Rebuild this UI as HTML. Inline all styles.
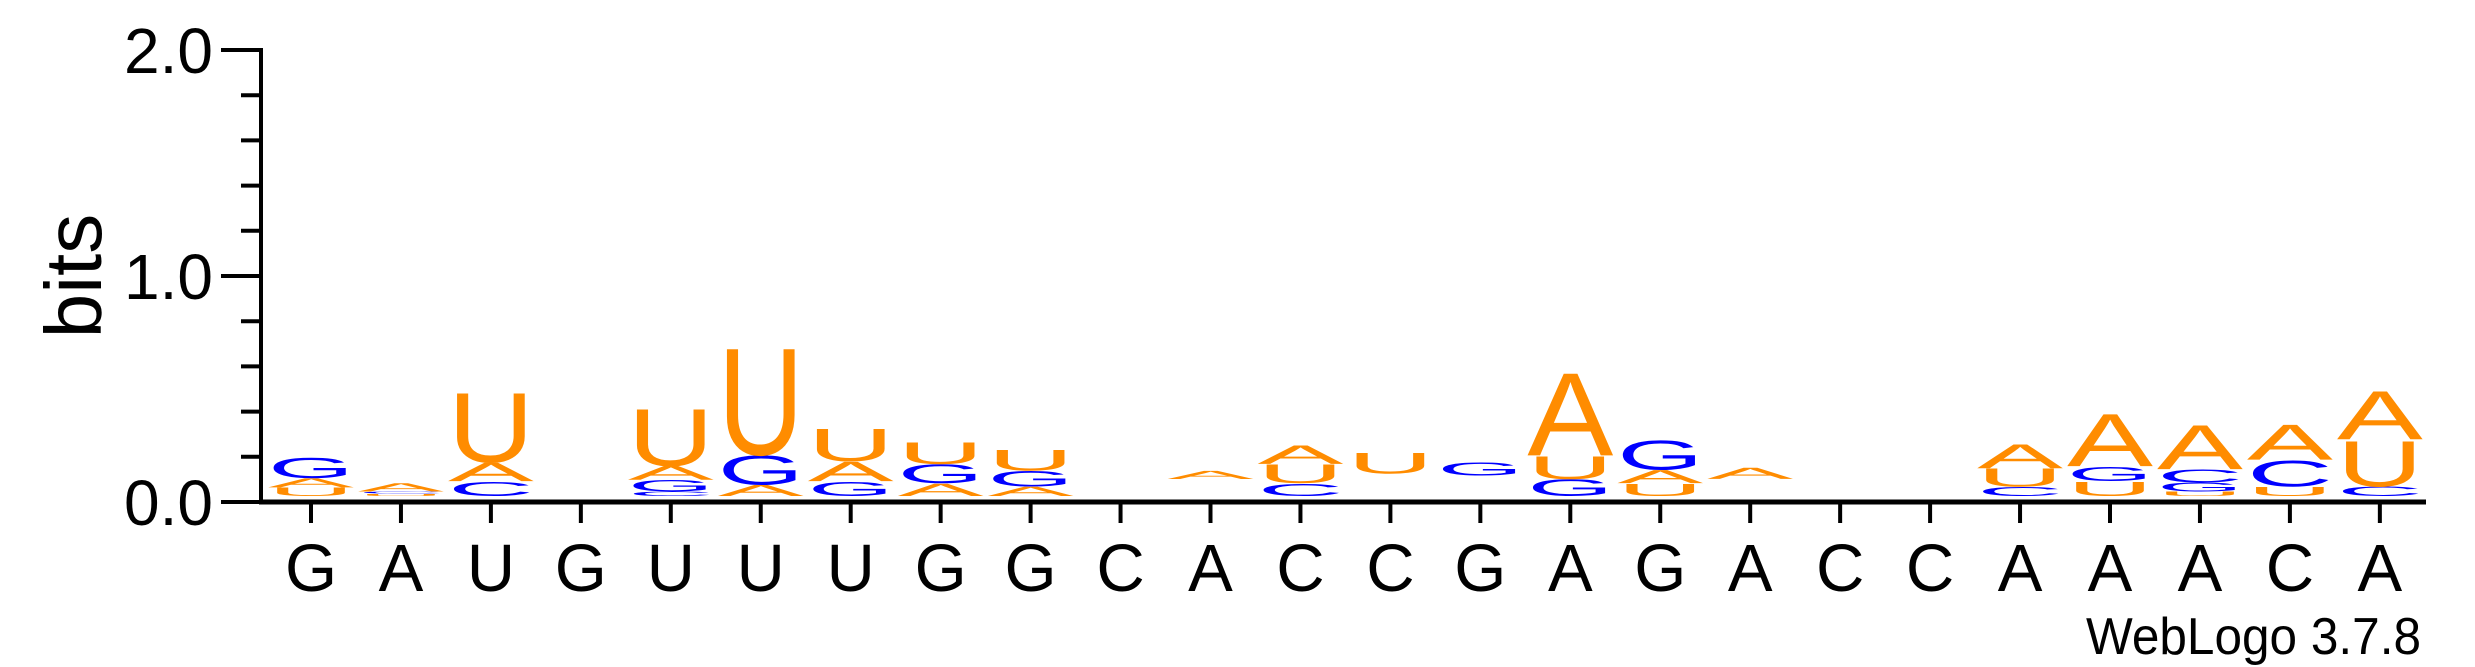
<!DOCTYPE html>
<html><head><meta charset="utf-8"><style>
html,body{margin:0;padding:0;background:#fff;}
svg{display:block;font-family:"Liberation Sans",Arial,sans-serif;}
</style></head><body>
<svg id="logo" width="2475" height="667" viewBox="0 0 2475 667" xmlns="http://www.w3.org/2000/svg">
<g id="axes"></g>
<g id="stacks"></g>
<text x="0" y="0" font-size="80" text-anchor="middle" transform="translate(101,276) rotate(-90)">bits</text>
<text x="2421" y="654" font-size="52" text-anchor="end" textLength="335" lengthAdjust="spacingAndGlyphs">WebLogo 3.7.8</text>
</svg>
<script>
const positions = ["G","A","U","G","U","U","U","G","G","C","A","C","C","G","A","G","A","C","C","A","A","A","C","A"];
const yTickValues = [0,0.2,0.4,0.6,0.8,1.0,1.2,1.4,1.6,1.8,2.0];
const yTickLabels = {"0":"0.0","1":"1.0","2":"2.0"};
// stacks bottom -> top : [letter, bits]; " " is an empty gap of small residual letters
const stackLetters = [
 ["U","A","G"],["U","C","A"],["C","A","U"],[],["C","G","A","U"],["A","G","U"],
 ["G","A","U"],["A","G","U"],["A","G","U"],[],[" ","A"],["C","U","A"],
 [" ","U"],[" ","G"],["G","U","A"],["U","A","G"],[" ","A"],[],[],
 ["C","U","A"],["U","G","A"],["U","G","C","A"],["U","C","A"],["C","U","A"]
];
const stackBits = [
 [0.038,0.042,0.091],[0.01,0.01,0.038],[0.066,0.085,0.316],[],[0.019,0.053,0.064,0.261],[0.051,0.132,0.488],
 [0.066,0.089,0.147],[0.057,0.085,0.1],[0.043,0.07,0.095],[],[0.075,0.038],[0.057,0.085,0.085],
 [0.1,0.095],[0.09,0.06],[0.076,0.104,0.378],[0.057,0.06,0.134],[0.076,0.051],[],[],
 [0.042,0.081,0.11],[0.066,0.066,0.24],[0.02,0.04,0.059,0.202],[0.042,0.119,0.161],[0.043,0.208,0.221]
];
const NS="http://www.w3.org/2000/svg";
const X0=311, DX=89.95, Y0=502, PPB=226, BASE=496;
const xScale=i=>X0+i*DX;
const yScale=b=>Y0-b*PPB;
const colors={A:"#ff8c00",U:"#ff8c00",G:"#0000ff",C:"#0000ff"};
const adv={A:0.667,C:0.722,G:0.778,U:0.722};
function mk(tag,attrs,parent){const e=document.createElementNS(NS,tag);for(const k in attrs)e.setAttribute(k,attrs[k]);parent.appendChild(e);return e;}
const axes=document.getElementById('axes');
let l=mk('line',{x1:261,y1:48,x2:261,y2:504,stroke:'#000','stroke-width':4},axes);


l=mk('line',{x1:259,y1:502,x2:2426,y2:502,stroke:'#000','stroke-width':5},axes);


yTickValues.forEach(v=>{
  const y=yScale(v);
  const major=(yTickLabels[String(v)]!==undefined);
  const t=mk('line',{x1:major?221:241,y1:y,x2:261,y2:y,stroke:'#000','stroke-width':4},axes);
  
  
  if(major){
    const tx=mk('text',{x:213,y:y+23,'font-size':64,'text-anchor':'end'},axes);
    tx.textContent=yTickLabels[String(v)];
    
    
  }
});
positions.forEach((p,i)=>{
  const x=xScale(i);
  const t=mk('line',{x1:x,y1:502,x2:x,y2:523,stroke:'#000','stroke-width':4},axes);
  
  
  const tx=mk('text',{x:x,y:591,'font-size':67,'text-anchor':'middle'},axes);
  tx.textContent=p;
  
  
});
const stacks=document.getElementById('stacks');
stackLetters.forEach((letters,i)=>{
  const g=mk('g',{},stacks);
  
  
  let base=BASE;
  letters.forEach((L,j)=>{
    const h=stackBits[i][j]*PPB;
    if(L!==" "){
      const sx=86/(adv[L]*100), sy=h/72;
      const t=mk('text',{x:0,y:0,'font-size':100,'text-anchor':'middle',fill:colors[L],
        transform:`translate(${xScale(i)},${base}) scale(${sx},${sy})`},g);
      t.textContent=L;
      
      
    }
    base-=h;
  });
});
</script>
</body></html>
